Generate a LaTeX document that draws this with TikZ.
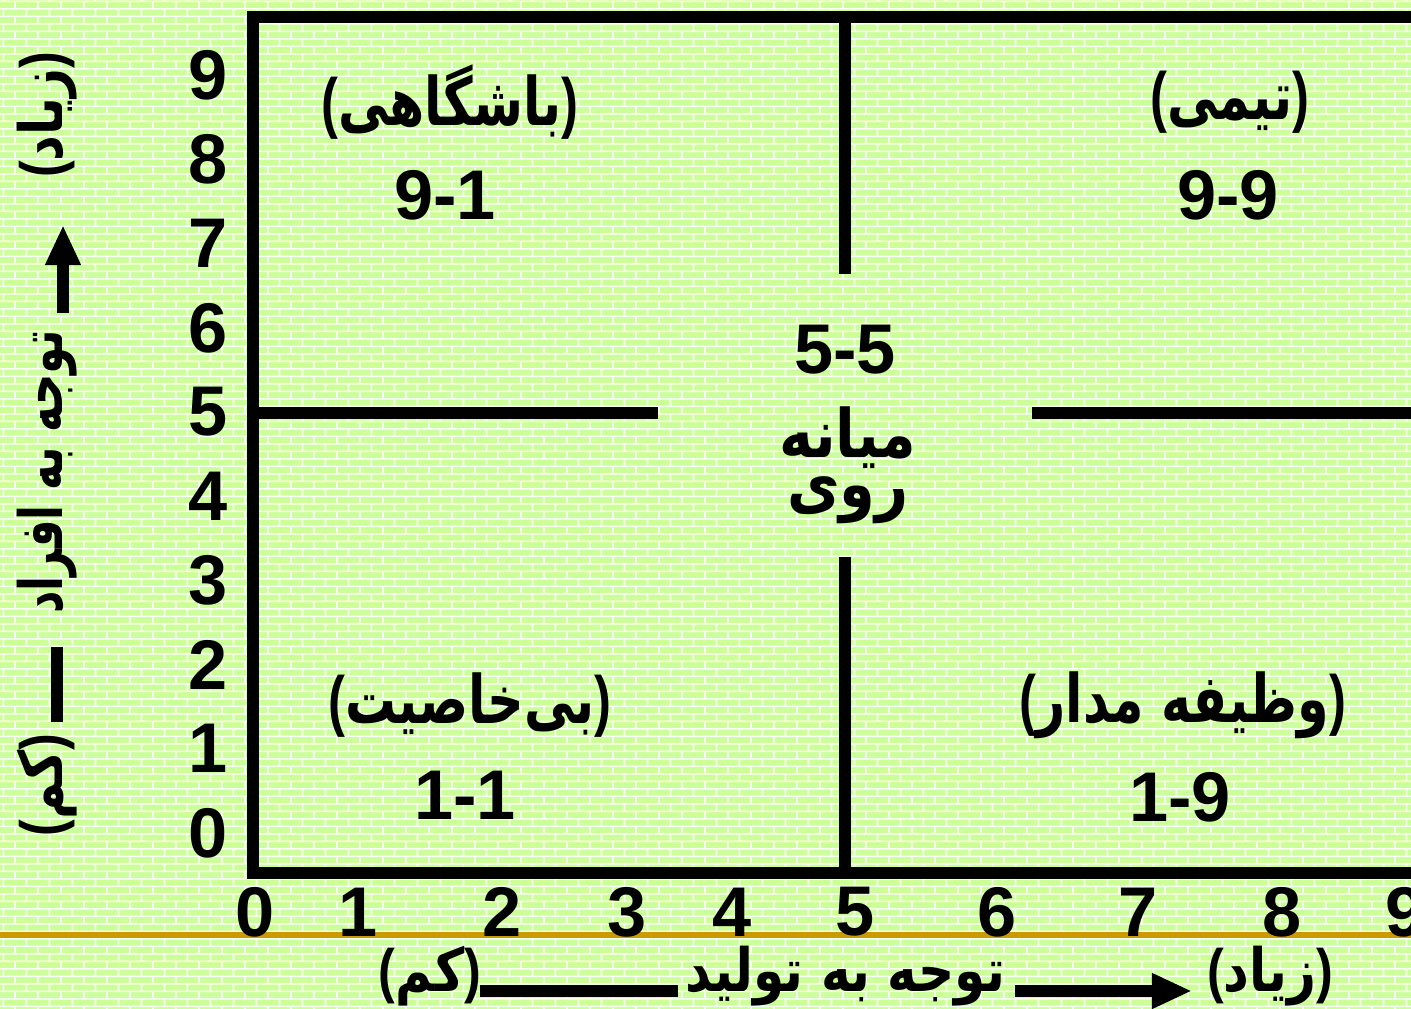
\documentclass[tikz,border=0pt]{standalone}
\usepackage{fontspec}
\usepackage{graphicx}
\setmainfont{Liberation Sans}
\newfontfamily\fafont[Script=Arabic]{DejaVu Sans}
\TeXXeTstate=1
\usetikzlibrary{patterns,arrows.meta}

\definecolor{bggreen}{RGB}{204,255,153}
\definecolor{brickline}{RGB}{250,255,244}
\definecolor{rulegold}{RGB}{204,153,0}

% latin brackets round the persian words
\newcommand{\fapl}{{\rmfamily(}}
\newcommand{\fapr}{{\rmfamily)}}

% brick texture of the slide background
\pgfdeclarepatternformonly{greenbricks}{\pgfqpoint{0pt}{0pt}}{\pgfqpoint{6.54pt}{4.38pt}}{\pgfqpoint{6.54pt}{4.38pt}}{%
  \pgfsetlinewidth{0.45pt}
  \pgfpathmoveto{\pgfqpoint{0pt}{1.1pt}}\pgfpathlineto{\pgfqpoint{6.54pt}{1.1pt}}
  \pgfpathmoveto{\pgfqpoint{0pt}{3.29pt}}\pgfpathlineto{\pgfqpoint{6.54pt}{3.29pt}}
  \pgfpathmoveto{\pgfqpoint{1pt}{1.1pt}}\pgfpathlineto{\pgfqpoint{1pt}{3.29pt}}
  \pgfpathmoveto{\pgfqpoint{4.27pt}{3.29pt}}\pgfpathlineto{\pgfqpoint{4.27pt}{4.38pt}}
  \pgfpathmoveto{\pgfqpoint{4.27pt}{0pt}}\pgfpathlineto{\pgfqpoint{4.27pt}{1.1pt}}
  \pgfusepath{stroke}}

\begin{document}
\begin{tikzpicture}[
x=0.01cm,y=-0.01cm,
numlabel/.style={font=\fontsize{20}{24}\selectfont\bfseries},
falabel/.style={font=\fontsize{19}{23}\selectfont\bfseries\fafont},
axislabel/.style={font=\fontsize{17}{20}\selectfont\bfseries\fafont},
boxline/.style={line width=3.4pt},
axisbar/.style={line width=3.5pt},
axisarrow/.style={line width=3.5pt,-{Triangle[length=11.4pt,width=9.4pt]}}
]
\clip (0,0) rectangle (1411,1009);
\fill[bggreen] (0,0) rectangle (1411,1009);
\fill[pattern=greenbricks,pattern color=brickline] (0,0) rectangle (1411,1009);
\draw[rulegold,line width=1.5pt] (0,935) -- (1411,935);

% grid frame
\draw[boxline] (1420,17) -- (253,17) -- (253,873) -- (1420,873);
\draw[boxline] (845,17) -- (845,274);
\draw[boxline] (845,557) -- (845,873);
\draw[boxline] (253,413) -- (658,413);
\draw[boxline] (1032,413) -- (1420,413);

% scales
\foreach \n in {0,...,9}
  \node[numlabel] (y\n) at (208,833-84.2*\n) {\n};
\foreach \n/\xpos in {0/255,1/358,2/502,3/627,4/732,5/855,6/997,7/1138,8/1282,9/1405}
  \node[numlabel] (x\n) at (\xpos,912) {\n};

% styles
\node[falabel] (club) at (450,102) {\scalebox{0.76}[1]{\fapl\beginR باشگاهی\endR\fapr}};
\node[numlabel] (club-val) at (445,195) {9-1};
\node[falabel] (team) at (1230,102) {\scalebox{0.76}[1]{\fapl\beginR تیمی\endR\fapr}};
\node[numlabel] (team-val) at (1228,195) {9-9};
\node[numlabel] (mid-val) at (845,350) {5-5};
\node[falabel,anchor=base] (mid-a) at (848,457) {\scalebox{0.86}[1]{\beginR میانه\endR}};
\node[falabel,anchor=base] (mid-b) at (848,507) {\scalebox{0.86}[1]{\beginR روی\endR}};
\node[falabel] (poor) at (470,705) {\scalebox{0.76}[1]{\fapl\beginR بی‌خاصیت\endR\fapr}};
\node[numlabel] (poor-val) at (465,795) {1-1};
\node[falabel] (task) at (1183,705) {\scalebox{0.76}[1]{\fapl\beginR وظیفه مدار\endR\fapr}};
\node[numlabel] (task-val) at (1180,797) {1-9};

% bottom axis title
\node[axislabel] (prod-low) at (430,976) {\scalebox{0.84}[1]{\fapl\beginR کم\endR\fapr}};
\node[axislabel] (prod) at (845,976) {\scalebox{0.84}[1]{\beginR توجه به تولید\endR}};
\node[axislabel] (prod-high) at (1270,976) {\scalebox{0.84}[1]{\fapl\beginR زیاد\endR\fapr}};
\coordinate (pbar-a) at (480,991);
\coordinate (pbar-b) at (678,991);
\coordinate (parr-a) at (1015,991);
\coordinate (parr-b) at (1192,991);
\draw[axisbar] (pbar-a) -- (pbar-b);
\draw[axisarrow] (parr-a) -- (parr-b);

% left axis title
\node[axislabel,rotate=90] (people-low) at (47,785) {\scalebox{0.84}[1]{\fapl\beginR کم\endR\fapr}};
\node[axislabel,rotate=90] (people) at (47,472) {\scalebox{0.73}[1]{\beginR توجه به افراد\endR}};
\node[axislabel,rotate=90] (people-high) at (47,115) {\scalebox{0.84}[1]{\fapl\beginR زیاد\endR\fapr}};
\coordinate (hbar-a) at (57,722);
\coordinate (hbar-b) at (57,647);
\coordinate (harr-a) at (63,313);
\coordinate (harr-b) at (63,225);
\draw[axisbar] (hbar-a) -- (hbar-b);
\draw[axisarrow] (harr-a) -- (harr-b);
\end{tikzpicture}
\end{document}
